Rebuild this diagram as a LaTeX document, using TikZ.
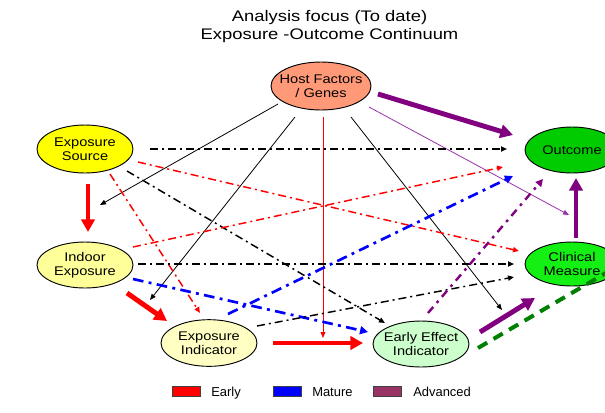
\documentclass[tikz,border=0pt]{standalone}
\usepackage{fontspec}
\newfontfamily\titlefont{Liberation Sans}[FakeStretch=1.2]
\newfontfamily\stagefont{Liberation Sans}[FakeStretch=1.16]
\newfontfamily\keyfont{Liberation Sans}
\usetikzlibrary{arrows.meta,shapes.geometric}

\definecolor{hostfill}{RGB}{255,153,119}
\definecolor{srcfill}{RGB}{255,255,0}
\definecolor{indoorfill}{RGB}{255,255,153}
\definecolor{expindfill}{RGB}{255,255,196}
\definecolor{earlyfill}{RGB}{204,255,204}
\definecolor{outfill}{RGB}{0,204,0}
\definecolor{clinfill}{RGB}{20,240,20}
\definecolor{deeppurple}{RGB}{128,0,128}
\definecolor{violetline}{RGB}{153,51,170}
\definecolor{advfill}{RGB}{153,51,102}
\definecolor{dashgreen}{RGB}{0,128,0}

\begin{document}
\begin{tikzpicture}[x=0.75pt,y=-0.75pt,
  stage/.style={ellipse,draw=black,line width=0.7pt,inner sep=0pt,
    minimum width=72pt,minimum height=35pt},
  stagetext/.style={font=\stagefont\fontsize{9.45}{10.7}\selectfont,
    align=center,inner sep=0pt},
  thinarrow/.style={-{Triangle[length=4.5pt,width=3.6pt]},line width=0.6pt},
  ddash/.style={dash pattern=on 6pt off 3pt on 1.5pt off 3pt},
  ddlink/.style={ddash,-{Triangle[length=4.5pt,width=3.8pt]},line width=1.1pt},
  bluelink/.style={blue,dash pattern=on 8pt off 4pt on 2.2pt off 4pt,
    -{Triangle[length=6pt,width=6pt]},line width=2pt},
  purplelink/.style={deeppurple,dash pattern=on 6pt off 4pt on 2pt off 4pt,
    -{Triangle[length=5.5pt,width=5.5pt]},line width=1.8pt},
  bigarrow/.style={-{Triangle[length=9.5pt,width=10pt]},line width=3.7pt},
  keybox/.style={draw=black!75,line width=0.6pt,minimum width=21pt,
    minimum height=7.5pt,inner sep=0pt},
  keytext/.style={font=\keyfont\fontsize{9.7}{11}\selectfont,anchor=base west,inner sep=0pt}
]
\useasboundingbox (0,0) rectangle (605,412);
\clip (0,0) rectangle (605,412);
\fill[white] (0,0) rectangle (605,412);

% heading
\node[font=\titlefont\fontsize{11.5}{14}\selectfont,anchor=base,inner sep=0pt]
  (title1) at (329.5,21) {Analysis focus (To date)};
\node[font=\titlefont\fontsize{11.5}{14}\selectfont,anchor=base,inner sep=0pt]
  (title2) at (329.5,39.8) {Exposure -Outcome Continuum};

% stages of the continuum
\node[stage,fill=hostfill,minimum width=75pt,minimum height=36pt,
  label={[stagetext]center:Host Factors\\/ Genes}] (host) at (321,86) {};
\node[stage,fill=srcfill,minimum height=36pt,
  label={[stagetext]center:Exposure\\Source}] (src) at (85,149) {};
\node[stage,fill=indoorfill,minimum height=34.5pt,
  label={[stagetext]center:Indoor\\Exposure}] (indoor) at (85,265) {};
\node[stage,fill=expindfill,
  label={[stagetext]center:Exposure\\Indicator}] (expind) at (209,343) {};
\node[stage,fill=earlyfill,minimum height=34.5pt,
  label={[stagetext]center:Early Effect\\Indicator}] (early) at (421,344) {};
\node[stage,fill=outfill,minimum width=70.5pt,minimum height=34.5pt,
  label={[stagetext]center:Outcome}] (outcome) at (572,150) {};
\node[stage,fill=clinfill,minimum width=70.5pt,minimum height=33pt,
  label={[stagetext]center:Clinical\\Measure}] (clinical) at (572,264) {};
\coordinate (offright) at (645,250);

% links from host factors
\draw[thinarrow] ([shift={(-43,18)}]host.center) -- ([shift={(15,-60)}]indoor.center);
\draw[thinarrow] ([shift={(-26,31)}]host.center) -- ([shift={(-59,-43)}]expind.center);
\draw[thinarrow,red] ([shift={(2,31)}]host.center) -- ([shift={(-98,-6)}]early.center);
\draw[thinarrow] ([shift={(30,31)}]host.center) -- ([shift={(-70,46)}]clinical.center);
\draw[thinarrow,violetline] ([shift={(48,21)}]host.center) -- ([shift={(-3,-49)}]clinical.center);
\draw[bigarrow,deeppurple] ([shift={(57,8)}]host.center) -- ([shift={(-59,-15)}]outcome.center);

% links from exposure source
\draw[ddlink] ([shift={(65,0)}]src.center) -- ([shift={(-65,-1)}]outcome.center);
\draw[ddlink,red] ([shift={(53,13)}]src.center) -- ([shift={(-53,-13)}]clinical.center);
\draw[ddlink] ([shift={(42,22)}]src.center) -- ([shift={(-36,-21)}]early.center);
\draw[ddlink,red] ([shift={(25,25)}]src.center) -- ([shift={(-9,-30)}]expind.center);
\draw[bigarrow,red] ([shift={(3,35)}]src.center) -- ([shift={(3,-33)}]indoor.center);

% links from indoor exposure
\draw[ddlink,red] ([shift={(48,-18)}]indoor.center) -- ([shift={(-69,17)}]outcome.center);
\draw[ddlink] ([shift={(53,-1)}]indoor.center) -- ([shift={(-58,0)}]clinical.center);
\draw[bluelink] ([shift={(48,14)}]indoor.center) -- ([shift={(-53,-12)}]early.center);
\draw[bigarrow,red] ([shift={(42,28)}]indoor.center) -- ([shift={(-42,-22)}]expind.center);

% links from exposure indicator
\draw[bluelink] ([shift={(19,-29)}]expind.center) -- ([shift={(-59,26)}]outcome.center);
\draw[ddlink] ([shift={(48,-17)}]expind.center) -- ([shift={(-58,13)}]clinical.center);
\draw[bigarrow,red] ([shift={(64,0)}]expind.center) -- ([shift={(-58,-1)}]early.center);

% links from early effect indicator
\draw[purplelink] ([shift={(7,-31)}]early.center) -- ([shift={(-29,29)}]outcome.center);
\draw[bigarrow,deeppurple] ([shift={(59,-12)}]early.center) -- ([shift={(-37,34)}]clinical.center);
\draw[dashgreen,line width=3pt,dash pattern=on 8pt off 5.5pt] ([shift={(57,4)}]early.center) -- (offright);

% clinical measure to outcome
\draw[bigarrow,deeppurple] ([shift={(4,-26)}]clinical.center) -- ([shift={(4,28)}]outcome.center);

% key
\node[keybox,fill=red] (keyEarly) at (186,391) {};
\node[keytext] (keyEarlyText) at (211,396) {Early};
\node[keybox,fill=blue] (keyMature) at (287,391) {};
\node[keytext] (keyMatureText) at (312,396) {Mature};
\node[keybox,fill=advfill] (keyAdvanced) at (387.5,391) {};
\node[keytext] (keyAdvancedText) at (413,396) {Advanced};
\end{tikzpicture}
\end{document}
